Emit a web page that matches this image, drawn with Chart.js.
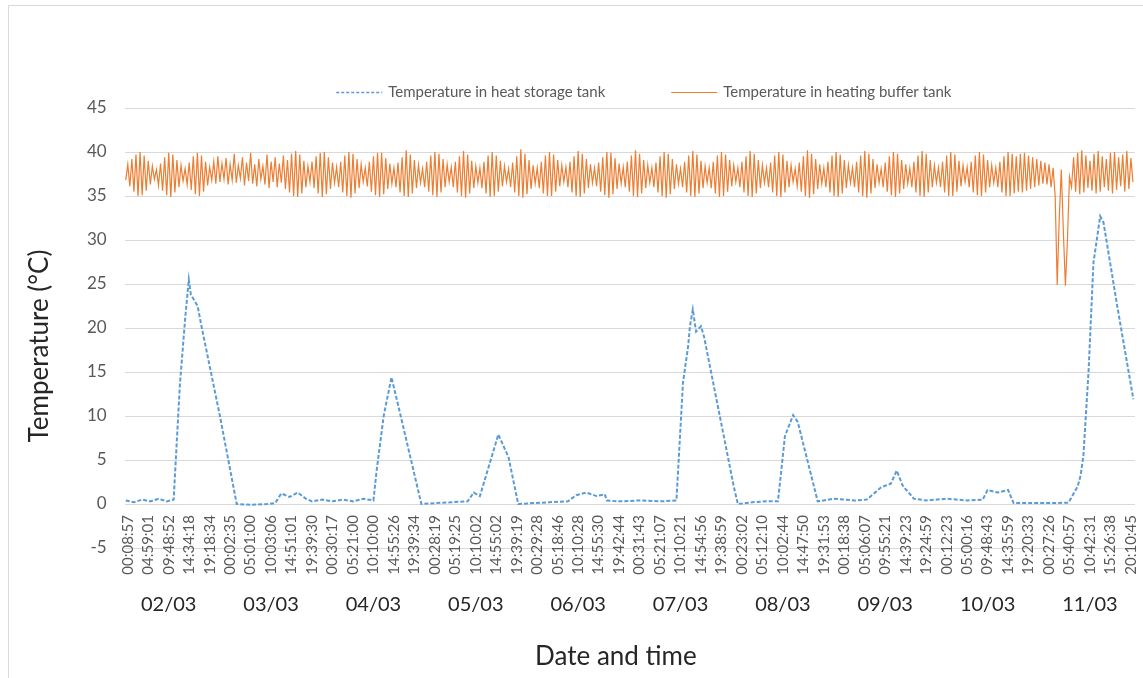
<!DOCTYPE html>
<html>
<head>
<meta charset="utf-8">
<script src="https://cdn.jsdelivr.net/npm/chart.js@4.4.1/dist/chart.umd.min.js"></script>
<style>
  html, body { margin: 0; padding: 0; background: #fff; overflow: hidden; }
  #frame { position: absolute; left: 8px; top: 5px; width: 1200px; height: 700px; border: 1px solid #d9d9d9; }
  #grafico { position: absolute; left: 0; top: 0; }
</style>
</head>
<body>
<div id="frame"></div>
<canvas id="grafico" width="1143" height="678"></canvas>
<script>
// Rótulos do eixo x (hora de cada marca) e datas agrupadas de 5 em 5
const horas = [
  '00:08:57', '04:59:01', '09:48:52', '14:34:18', '19:18:34',
  '00:02:35', '05:01:00', '10:03:06', '14:51:01', '19:39:30',
  '00:30:17', '05:21:00', '10:10:00', '14:55:26', '19:39:34',
  '00:28:19', '05:19:25', '10:10:02', '14:55:02', '19:39:19',
  '00:29:28', '05:18:46', '10:10:28', '14:55:30', '19:42:44',
  '00:31:43', '05:21:07', '10:10:21', '14:54:56', '19:38:59',
  '00:23:02', '05:12:10', '10:02:44', '14:47:50', '19:31:53',
  '00:18:38', '05:06:07', '09:55:21', '14:39:23', '19:24:59',
  '00:12:23', '05:00:16', '09:48:43', '14:35:59', '19:20:33',
  '00:27:26', '05:40:57', '10:42:31', '15:26:38', '20:10:45'
];
const datas = ['02/03', '03/03', '04/03', '05/03', '06/03', '07/03', '08/03', '09/03', '10/03', '11/03'];
const yTicks = [-5, 0, 5, 10, 15, 20, 25, 30, 35, 40, 45];

// Tanque de armazenamento (posição em unidades de marca do eixo x, temperatura)
const armazenamentoX = [
  -0.1, 0.3, 0.7, 1.1, 1.5, 1.9, 2.24, 2.54, 2.8, 2.98, 3.08, 3.41, 3.6, 4.5, 5.32,
  6.0, 6.8, 7.2, 7.5, 7.9, 8.3, 8.7, 9.0, 9.5, 10.0, 10.5, 11.0, 11.5, 12.0, 12.15,
  12.5, 12.88, 13.25, 14.34, 15.0, 15.8, 16.6, 16.9, 17.2, 17.6, 18.1, 18.6, 19.07,
  19.8, 20.6, 21.5, 21.9, 22.4, 22.9, 23.3, 23.4, 24.0, 25.0, 26.0, 26.8, 27.12,
  27.37, 27.46, 27.6, 27.76, 28.0, 28.15, 29.6, 29.8, 30.5, 31.2, 31.76, 32.1, 32.5,
  32.73, 33.7, 34.5, 35.5, 36.1, 36.8, 37.27, 37.56, 37.85, 38.4, 39.0, 40.0, 41.0,
  41.76, 42.0, 42.5, 43.0, 43.27, 44.0, 45.0, 45.95, 46.4, 46.54, 46.68, 46.93,
  47.17, 47.5, 47.66, 48.34, 49.12
];
const armazenamentoTemp = [
  0.4, 0.2, 0.5, 0.3, 0.6, 0.3, 0.5, 13.4, 21.0, 25.5, 23.8, 22.5, 20.2, 10.0, 0.0,
  -0.1, 0.0, 0.1, 1.2, 0.8, 1.3, 0.6, 0.3, 0.5, 0.3, 0.5, 0.3, 0.6, 0.4, 3.7,
  10.0, 14.4, 10.8, 0.0, 0.1, 0.2, 0.3, 1.3, 0.9, 4.0, 7.9, 5.3, 0.0,
  0.1, 0.2, 0.3, 1.0, 1.3, 0.9, 1.1, 0.4, 0.3, 0.4, 0.3, 0.4, 13.8,
  17.9, 20.2, 22.1, 19.6, 20.2, 19.0, 2.0, 0.0, 0.2, 0.3, 0.3, 7.7, 10.1,
  9.3, 0.3, 0.6, 0.4, 0.5, 1.9, 2.3, 3.8, 2.1, 0.6, 0.4, 0.6, 0.4,
  0.5, 1.6, 1.3, 1.6, 0.1, 0.1, 0.1, 0.15, 2.0, 3.2, 5.5, 15.0,
  27.4, 32.7, 32.0, 22.4, 11.9
];

// Tanque de buffer: leituras a cada 0.1 marca, começando em -0.1
const bufferInicio = -0.1;
const bufferPasso = 0.1;
const bufferTemp = [
  36.8, 38.6, 36.1, 39.2, 35.5, 39.7, 35.0, 40.0, 35.1, 39.6, 35.6, 39.0, 36.3, 38.4, 36.9, 38.0, 36.2, 38.7, 35.6, 39.4,
  35.1, 39.9, 34.9, 39.7, 35.4, 39.1, 36.0, 38.5, 36.7, 38.1, 36.3, 38.8, 35.7, 39.5, 35.2, 39.9, 35.0, 39.6, 35.5, 38.9,
  36.2, 38.3, 36.8, 38.9, 36.4, 39.5, 36.6, 38.7, 36.9, 39.3, 36.3, 38.6, 36.8, 39.8, 36.5, 38.5, 37.0, 39.4, 36.2, 38.8,
  36.7, 39.9, 36.4, 38.6, 36.1, 39.2, 36.9, 38.4, 36.3, 39.7, 35.9, 38.9, 36.6, 39.4, 36.0, 38.7, 36.5, 39.6, 35.8, 39.1,
  35.4, 39.8, 35.0, 40.1, 34.9, 39.7, 35.3, 39.0, 36.0, 38.4, 36.6, 38.9, 35.9, 39.5, 35.3, 39.9, 34.9, 40.0, 35.2, 39.4,
  35.8, 38.8, 36.5, 38.3, 36.0, 38.9, 35.4, 39.6, 35.0, 40.0, 34.8, 39.8, 35.3, 39.2, 35.9, 38.6, 36.6, 38.2, 36.1, 38.9,
  35.5, 39.5, 35.1, 39.9, 34.9, 39.9, 35.2, 39.3, 35.8, 38.7, 36.4, 38.2, 36.0, 38.8, 35.4, 39.4, 35.0, 40.2, 34.9, 39.7,
  35.3, 39.1, 35.9, 38.5, 36.5, 38.1, 36.0, 38.9, 35.5, 39.6, 35.1, 40.0, 34.9, 39.8, 35.4, 39.2, 36.0, 38.6, 36.6, 38.3,
  36.0, 38.9, 35.4, 39.5, 35.0, 40.1, 34.8, 39.7, 35.3, 39.0, 35.9, 38.4, 36.5, 38.2, 35.9, 38.9, 35.3, 39.6, 34.9, 40.0,
  35.0, 39.6, 35.5, 39.0, 36.1, 38.4, 36.6, 38.1, 36.0, 38.8, 35.4, 39.5, 35.0, 40.3, 34.8, 39.8, 35.2, 39.1, 35.8, 38.5,
  36.4, 38.2, 35.9, 38.9, 35.3, 39.6, 35.0, 40.0, 35.0, 39.7, 35.5, 39.1, 36.1, 38.5, 36.6, 38.3, 36.0, 38.9, 35.4, 39.5,
  35.0, 40.1, 34.9, 39.8, 35.3, 39.2, 35.9, 38.6, 36.5, 38.2, 36.1, 38.8, 35.5, 39.4, 35.1, 40.0, 34.8, 39.9, 35.2, 39.3,
  35.8, 38.7, 36.4, 38.3, 36.0, 38.9, 35.5, 39.6, 35.0, 40.2, 34.9, 39.8, 35.3, 39.1, 35.9, 38.5, 36.5, 38.2, 36.0, 38.8,
  35.4, 39.5, 35.0, 40.0, 34.8, 39.8, 35.2, 39.2, 35.8, 38.6, 36.4, 38.1, 36.0, 38.9, 35.4, 39.6, 35.0, 40.1, 34.9, 39.7,
  35.3, 39.0, 35.9, 38.4, 36.5, 38.2, 35.9, 38.9, 35.3, 39.6, 34.9, 40.0, 35.0, 39.7, 35.5, 39.1, 36.1, 38.5, 36.6, 38.2,
  36.0, 38.9, 35.4, 39.5, 35.0, 40.1, 34.9, 39.8, 35.3, 39.1, 35.9, 38.5, 36.5, 38.2, 36.0, 38.8, 35.4, 39.6, 35.0, 40.0,
  34.9, 39.7, 35.4, 39.0, 36.0, 38.5, 36.6, 38.1, 36.1, 38.8, 35.5, 39.5, 35.0, 40.2, 34.8, 39.8, 35.2, 39.2, 35.8, 38.6,
  36.4, 38.2, 36.0, 38.9, 35.4, 39.6, 35.0, 40.0, 34.9, 39.7, 35.3, 39.1, 35.9, 38.5, 36.5, 38.2, 36.0, 38.9, 35.4, 39.6,
  35.0, 40.1, 34.8, 39.8, 35.3, 39.2, 35.9, 38.6, 36.5, 38.1, 36.0, 38.8, 35.5, 39.5, 35.1, 40.0, 34.9, 39.8, 35.3, 39.1,
  35.8, 38.6, 36.4, 38.2, 36.0, 38.9, 35.4, 39.6, 35.0, 40.1, 34.9, 39.8, 35.4, 39.1, 36.0, 38.5, 36.5, 38.2, 36.0, 38.9,
  35.4, 39.6, 35.0, 40.0, 35.0, 39.7, 35.5, 39.0, 36.1, 38.5, 36.6, 38.3, 36.0, 38.9, 35.4, 39.6, 35.1, 40.0, 35.0, 39.7,
  35.4, 39.1, 36.0, 38.5, 36.5, 38.2, 36.0, 38.9, 35.4, 39.5, 35.0, 40.0, 35.0, 39.8, 35.3, 39.5, 35.5, 39.8, 35.4, 39.9,
  35.6, 39.6, 35.8, 39.4, 36.0, 39.2, 36.2, 39.0, 36.4, 38.8, 36.3, 38.6, 36.0, 38.2, 35.0, 24.9, 32.5, 38.0, 31.0, 24.8,
  30.0, 37.2, 36.0, 39.4, 35.5, 39.9, 35.2, 40.2, 35.4, 39.6, 35.9, 39.0, 35.6, 39.8, 35.3, 40.1, 35.5, 39.5, 36.0, 39.2,
  35.6, 39.9, 35.3, 40.0, 35.7, 39.4, 36.1, 39.7, 35.5, 40.1, 35.8, 39.3, 36.6
];

const corAzul = '#5b9bd5';
const corLaranja = '#ed7d31';
const fonte = 'Lato, "Open Sans", sans-serif';
const fonteHoras = 15;

const pontosArmazenamento = armazenamentoX.map((x, i) => ({ x: x, y: armazenamentoTemp[i] }));
const pontosBuffer = bufferTemp.map((t, i) => ({ x: bufferInicio + i * bufferPasso, y: t }));

// Legenda no estilo do Excel (linha + texto, bem espaçados)
const legendaTopo = {
  id: 'legendaTopo',
  afterDraw(chart) {
    const ctx = chart.ctx;
    const area = chart.chartArea;
    const tamLinha = 46, espaco = 6, entreItens = 66;
    ctx.save();
    ctx.font = '15px ' + fonte;
    const itens = chart.data.datasets.map(ds => ({ ds, w: tamLinha + espaco + ctx.measureText(ds.label).width }));
    const total = itens.reduce((s, it) => s + it.w, 0) + entreItens * (itens.length - 1);
    let x = (area.left + area.right) / 2 + 14 - total / 2;
    const y = area.top - 16;
    itens.forEach(it => {
      ctx.strokeStyle = it.ds.borderColor;
      ctx.lineWidth = it.ds.borderDash ? 1.5 : 1;
      ctx.setLineDash(it.ds.borderDash ? [3, 2] : []);
      ctx.beginPath();
      ctx.moveTo(x, y + 0.5);
      ctx.lineTo(x + tamLinha, y + 0.5);
      ctx.stroke();
      ctx.setLineDash([]);
      ctx.fillStyle = '#595959';
      ctx.textBaseline = 'middle';
      ctx.textAlign = 'left';
      ctx.fillText(it.ds.label, x + tamLinha + espaco, y);
      x += it.w + entreItens;
    });
    ctx.restore();
  }
};

// Títulos dos eixos: o Excel centra-os no bloco todo (área + rótulos), não só na área
const titulosEixos = {
  id: 'titulosEixos',
  afterDraw(chart) {
    const ctx = chart.ctx;
    const area = chart.chartArea;
    ctx.save();
    ctx.fillStyle = '#262626';
    ctx.font = '26px ' + fonte;
    ctx.textAlign = 'center';
    ctx.textBaseline = 'middle';
    ctx.fillText('Date and time', (area.left + area.right) / 2 - 14, chart.height - 21);
    ctx.translate(40, (area.top + area.bottom) / 2 + 18);
    ctx.rotate(-Math.PI / 2);
    ctx.fillText('Temperature (°C)', 0, 0);
    ctx.restore();
  }
};

new Chart(document.getElementById('grafico').getContext('2d'), {
  type: 'line',
  data: {
    datasets: [
      {
        label: 'Temperature in heat storage tank',
        data: pontosArmazenamento,
        borderColor: corAzul,
        backgroundColor: corAzul,
        borderWidth: 2,
        borderDash: [4, 2],
        pointRadius: 0,
        tension: 0,
        xAxisID: 'x',
        yAxisID: 'y'
      },
      {
        label: 'Temperature in heating buffer tank',
        data: pontosBuffer,
        borderColor: corLaranja,
        backgroundColor: corLaranja,
        borderWidth: 1.2,
        pointRadius: 0,
        tension: 0,
        xAxisID: 'x',
        yAxisID: 'y'
      }
    ]
  },
  options: {
    responsive: false,
    animation: false,
    devicePixelRatio: 1,
    layout: { padding: { left: 69, right: 8, top: 108, bottom: 5 } },
    plugins: {
      legend: { display: false },
      tooltip: { enabled: false }
    },
    scales: {
      // horas: espelhadas para ficarem logo abaixo da linha do zero, como no Excel
      x: {
        type: 'linear',
        position: 'bottom',
        weight: 0,
        min: -0.15,
        max: 49.2,
        grid: { display: false },
        border: { display: false },
        afterBuildTicks: axis => { axis.ticks = horas.map((h, i) => ({ value: i })); },
        afterFit: axis => {
          // não reservar espaço: os rótulos ficam por cima da área do gráfico
          axis.height = 0;
          axis.paddingLeft = 0;
          axis.paddingRight = 0;
        },
        ticks: {
          autoSkip: false,
          minRotation: 90,
          maxRotation: 90,
          mirror: true,
          padding: 33,
          labelOffset: fonteHoras * 1.2,
          color: '#595959',
          font: { family: fonte, size: fonteHoras },
          callback: (v) => horas[v]
        }
      },
      // datas por baixo das horas
      x2: {
        type: 'linear',
        position: 'bottom',
        weight: 1,
        min: -0.15,
        max: 49.2,
        grid: { display: false },
        border: { display: false },
        afterBuildTicks: axis => { axis.ticks = datas.map((d, i) => ({ value: i * 5 + 2 })); },
        afterFit: axis => {
          axis.height = 125;
          axis.paddingLeft = 0;
          axis.paddingRight = 0;
        },
        ticks: {
          autoSkip: false,
          maxRotation: 0,
          padding: 37,
          color: '#262626',
          font: { family: fonte, size: 20 },
          callback: (v) => datas[(v - 2) / 5]
        }
      },
      y: {
        min: -5,
        max: 45,
        afterBuildTicks: axis => { axis.ticks = yTicks.map(v => ({ value: v })); },
        grid: { color: '#d9d9d9', drawTicks: false },
        border: { display: false },
        ticks: {
          padding: 18,
          color: '#595959',
          font: { family: fonte, size: 17 }
        }
      }
    }
  },
  plugins: [legendaTopo, titulosEixos]
});
</script>
</body>
</html>
